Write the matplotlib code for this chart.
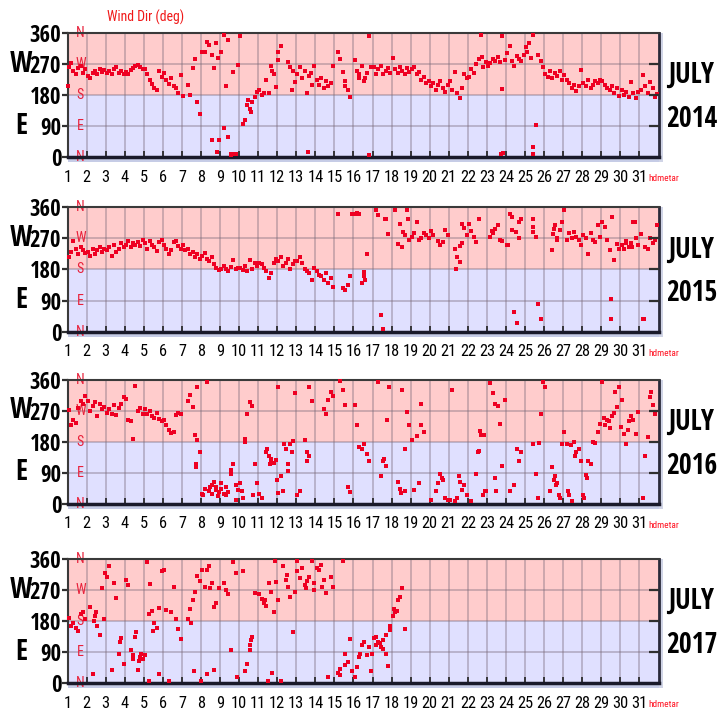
import os
import matplotlib
matplotlib.use('Agg')
import matplotlib.pyplot as plt
from matplotlib import font_manager as fm
from matplotlib.patches import Rectangle
from matplotlib.textpath import TextPath
import matplotlib.transforms as mtransforms

# wind direction (deg) for each July day, read as 3-hourly reports (None = no dot)
years = [2014, 2015, 2016, 2017]
day_ticks = list(range(1, 32))
deg_ticks = [0, 90, 180, 270, 360]
compass = [(360, 'N'), (270, 'W'), (180, 'S'), (90, 'E'), (0, 'N')]

dir_2014 = [
    [262, 272, 250, 240, 258, 265, 245, 255],
    [235, 228, 245, 250, 240, 255, 248, 252],
    [245, 250, 240, 255, 260, 245, 250, 242],
    [248, 240, 252, 258, 265, 268, 262, 255],
    [255, 240, 224, 212, 200, 195, 250, 232],
    [245, 225, 212, 230, 205, 200, 185, 238],
    [178, None, 208, 180, 258, 284, 160, 126],
    [306, 306, 335, 326, 297, 258, 331, 49],
    [306, 355, 206, 340, 10, 248, 10, 268],
    [352, 95, 107, 150, 138, 160, 175, 190],
    [195, 180, 185, 224, 185, 263, 240, 204],
    [282, 321, None, None, 277, 262, 250, 219],
    [240, 262, 230, 250, 185, 235, 210, 263],
    [225, 210, 230, 200, 220, 205, 215, 263],
    [None, 306, 284, 248, 220, 195, 175, None],
    [282, 250, 230, 265, 220, 245, 350, 260],
    [262, 240, 255, 265, 240, 250, 258, 245],
    [287, 255, 245, 262, 250, 240, 258, 248],
    [255, 262, 240, 248, 225, 232, 215, 220],
    [205, 215, 195, 210, 220, 200, 190, 210],
    [220, 195, 248, 185, 170, 200, 240, 228],
    [232, 255, 245, 270, 285, 355, 262, 275],
    [265, 272, 285, 280, 290, 275, 350, 282],
    [302, 321, 280, 263, 292, 285, 278, 295],
    [318, 331, 287, 355, 94, 297, 280, 260],
    [240, 232, 250, 228, 245, 235, 250, 225],
    [238, 225, 215, 200, 210, 192, 205, 253],
    [215, 205, 225, 200, 210, 220, 215, 225],
    [220, 210, 200, 195, 205, 185, 200, 178],
    [195, 180, 188, 175, 219, 185, 172, 190],
    [195, 238, 205, 185, 219, 200, 175, 182],
]
extra_2014 = [(1.03, 205), (8.6, 49), (8.85, 15), (8.9, 287), (9.2, 85), (9.4, 58),
              (9.6, 5), (9.75, 8), (10.45, 165), (10.6, 130), (11.75, 250), (12.06, 306),
              (12.8, 195), (13.6, 15), (13.75, 245), (15.55, 205), (16.8, 5), (16.3, 240),
              (16.6, 228), (22.75, 290), (23.78, 197), (23.72, 8), (23.82, 12), (25.1, 305),
              (25.4, 8), (25.42, 28)]

dir_2015 = [
    [215, 230, 262, 240, 225, 245, 235, 228],
    [230, 220, 240, 225, 235, 245, 230, 238],
    [235, 245, 220, 250, 230, 240, 255, 245],
    [250, 262, 245, 255, 250, 258, 248, 265],
    [255, 240, 262, 250, 245, 232, 258, 266],
    [250, 240, 225, 235, 258, 262, 248, 240],
    [250, 235, 240, 225, 230, 215, 225, 210],
    [220, 228, 210, 205, 215, 195, 185, 178],
    [180, 190, 182, 176, 188, 206, 182, 185],
    [185, 178, 190, 175, 206, 182, 200, 190],
    [200, 195, 185, 175, 155, 170, 200, 210],
    [205, 215, 190, 198, 210, 180, 195, 205],
    [205, 215, 200, 182, 175, 170, 150, 185],
    [175, 165, 160, 150, 170, 140, 155, 130],
    [None, 341, None, 128, 120, 135, 160, 341],
    [341, 342, 340, 140, 160, 226, None, None],
    [None, 350, 336, 48, 10, 326, 283, None],
    [None, 350, 254, 312, 245, 280, 350, 265],
    [275, 285, 317, 265, 270, 285, 280, 270],
    [290, 280, None, 262, 250, 258, 293, 280],
    [None, None, 240, 216, 201, 255, 300, 280],
    [312, 290, 275, 260, 326, None, None, None],
    [None, 275, 285, 298, 307, 264, 262, None],
    [250, 341, 331, 58, 26, 317, 326, None],
    [None, None, None, 326, 274, 82, 38, None],
    [None, None, None, 235, 307, 270, 293, 317],
    [350, 264, 285, 270, 288, 275, 265, 250],
    [280, 270, 226, 285, 265, 260, 307, 275],
    [317, 302, 264, 235, 331, 206, 254, 240],
    [250, 240, 262, 245, 255, 317, 270, 250],
    [283, 38, 245, 240, 270, 255, 265, 307],
]
extra_2015 = [(16.55, 172), (16.6, 150), (17.65, 326), (18.62, 288), (18.85, 326),
              (21.4, 182), (21.6, 248), (21.7, 312), (23.25, 290), (24.1, 250), (24.3, 293),
              (24.55, 288), (24.7, 270), (25.4, 288), (25.42, 302), (26.45, 283), (26.5, 298),
              (26.65, 264), (29.52, 96), (29.53, 38), (30.3, 255), (30.6, 245), (30.75, 317),
              (31.25, 38)]

dir_2016 = [
    [272, 228, 243, 235, 280, 300, 290, 315],
    [300, 270, 285, 295, 255, 290, 275, 282],
    [265, 275, 262, 287, 258, 280, 290, 311],
    [305, 245, 240, 189, 342, 270, 280, 262],
    [275, 262, 270, 255, 250, 265, 248, 242],
    [245, 230, 215, 205, 210, 258, 265, 262],
    [None, None, 300, 316, 282, 200, 185, 150],
    [30, 45, 355, 38, 55, 65, 42, 35],
    [45, 30, 50, 35, 86, 117, 55, 40],
    [62, 18, 179, 262, 296, 285, 117, 62],
    [30, 18, None, 150, 140, 125, 120, 128],
    [340, 81, 37, 160, 115, 175, 184, 321],
    [27, 37, None, 186, 150, 340, 299, None],
    [None, None, None, 275, 262, 301, 326, 315],
    [None, None, 357, 331, 287, 50, 35, None],
    [287, 228, 165, 160, 174, 145, 125, None],
    [None, None, 355, 81, 125, 110, None, None],
    [None, None, 65, 45, 331, 159, 267, 228],
    [186, 42, 198, 62, 291, 208, None, None],
    [12, None, 37, 62, 86, 70, 18, 12],
    [12, 331, 8, 18, 65, 42, 55, 27],
    [None, 8, None, 86, 155, 200, 27, 37],
    [None, 350, 321, 291, 285, 233, 110, 301],
    [None, 37, None, 55, 160, 125, 150, None],
    [None, None, None, 174, 86, 18, 262, 355],
    [None, None, 37, 106, 80, 60, 18, 174],
    [208, 175, 25, 8, 180, 150, 160, 125],
    [25, 85, 125, 115, 179, 178, 208, 233],
    [355, 230, 245, 222, 255, 265, 282, 340],
    [301, 203, 174, 240, 255, 245, 203, 267],
    [None, 18, 140, 195, 311, 287, 262, None],
]
extra_2016 = [(1.3, 245), (7.72, 115), (7.75, 106), (7.8, 340), (8.1, 25), (8.45, 48),
              (8.6, 30), (8.8, 50), (8.9, 22), (9.05, 60), (9.3, 25), (9.55, 100), (9.85, 13),
              (10.15, 37), (10.3, 189), (10.75, 27), (11.45, 160), (11.6, 115), (11.7, 130),
              (11.85, 118), (12.0, 71), (12.05, 32), (12.35, 174), (12.55, 96), (12.75, 150),
              (13.55, 125), (13.65, 140), (17.6, 130), (17.75, 243), (17.85, 340), (18.5, 32),
              (18.7, 37), (19.55, 228), (20.65, 75), (21.55, 80), (22.55, 150), (22.65, 213),
              (22.85, 200), (22.9, 37), (23.45, 76), (23.47, 37), (25.75, 176), (26.05, 340),
              (26.5, 70), (26.6, 55), (26.8, 27), (27.25, 37), (27.4, 170), (27.6, 140),
              (28.1, 18), (28.25, 76), (29.15, 250), (29.4, 240), (29.7, 325), (30.05, 225),
              (30.4, 215), (30.55, 255), (31.62, 326)]

dir_2017 = [
    [190, 165, 175, 160, 150, 200, 207, 185],
    [None, 221, 27, 195, 165, 139, 275, 185],
    [309, 340, 38, 290, 248, 85, 130, 56],
    [300, 285, 95, 80, 135, 38, 75, 70],
    [80, 350, 287, 210, 175, 160, 217, 326],
    [328, 212, 7, 205, 280, 187, 158, 129],
    [None, None, 185, 215, 240, 265, 310, 295],
    [328, 280, 328, 340, 290, 221, 231, 275],
    [None, 290, 270, 258, 95, 350, 320, None],
    [None, 324, 36, 56, 110, 134, 260, None],
    [258, 245, 232, 225, 290, 265, 207, 294],
    [241, 7, 340, 300, 280, 250, 148, 265],
    [324, 305, 333, 285, 295, 309, 353, 290],
    [333, 328, 343, 299, 260, 17, 309, 280],
    [None, 30, 41, 353, 85, 60, 129, 36],
    [17, 46, 75, 110, 119, 80, 105, 36],
    [130, 110, 120, 105, 125, 140, 48, 153],
    [195, 205, 241, 250, 275, 158, None, None],
]
extra_2017 = [(2.4, 180), (2.5, 205), (2.95, 319), (3.45, 290), (3.75, 120), (4.45, 70),
              (4.6, 148), (4.75, 65), (4.85, 85), (5.25, 7), (5.3, 200), (5.5, 150), (5.8, 27),
              (7.5, 175), (7.65, 36), (8.0, 7), (8.3, 27), (8.45, 275), (8.7, 38), (9.9, 17),
              (10.55, 95), (10.6, 125), (11.35, 240), (11.5, 7), (11.75, 30), (11.9, 353),
              (12.5, 314), (13.05, 353), (13.5, 275), (13.95, 270), (14.35, 280), (15.3, 22),
              (15.55, 51), (16.35, 85), (16.95, 85), (17.2, 135), (17.4, 115), (17.55, 100),
              (17.7, 85), (17.9, 165), (18.1, 215), (18.3, 210)]

series = [(dir_2014, extra_2014), (dir_2015, extra_2015),
          (dir_2016, extra_2016), (dir_2017, extra_2017)]

font_files = {os.path.basename(f.fname): f.fname for f in fm.fontManager.ttflist}


def font_file(names, fallback):
    for n in names:
        if n in font_files:
            return fm.FontProperties(fname=font_files[n])
    return fallback


fp_bold = font_file(['OpenSans-CondBold.ttf', 'RobotoCondensed-Bold.ttf',
                     'NotoSans-ExtraCondensedBold.ttf', 'NotoSans-CondensedBold.ttf',
                     'LiberationSansNarrow-Bold.ttf', 'DejaVuSansCondensed-Bold.ttf'],
                    fm.FontProperties(family='DejaVu Sans', weight='bold'))
fp_reg = font_file(['RobotoCondensed-Regular.ttf', 'NotoSans-Condensed.ttf',
                    'LiberationSansNarrow-Regular.ttf', 'DejaVuSansCondensed.ttf'],
                   fm.FontProperties(family='DejaVu Sans'))


def fit(s, fp, width_px, cap_px):
    """font size (pt) so the text is at most width_px wide and cap_px tall"""
    w = TextPath((0, 0), s, size=100, prop=fp).get_extents().width
    px = min(cap_px / 0.72, 100 * width_px / w)
    return px * 0.72


W, H = 727, 712
fig = plt.figure(figsize=(W / 100, H / 100), dpi=100)
panels_px = [(33, 157), (207, 332), (380, 504), (559, 683)]
left_px, right_px = 67.5, 658.5
span_px = right_px - left_px
red = '#ee0022'

sz_ylab = fit('360', fp_bold, 30, 17)
sz_we = fit('W', fp_bold, 22, 23)
sz_big = min(fit('JULY', fp_bold, 55, 25), fit('2014', fp_bold, 50, 25))
sz_xlab = fit('10', fp_reg, 14, 12)
sz_comp = fit('W', fp_reg, 11, 10)
sz_title = fit('Wind Dir (deg)', fp_reg, 76, 12)
sz_tag = fit('hdmetar', fp_reg, 30, 8)

for n, (yr, (top, bot), (daily, extra)) in enumerate(zip(years, panels_px, series)):
    ax = fig.add_axes([left_px / W, 1 - bot / H, span_px / W, (bot - top) / H])
    ax.set_xlim(1, 32)
    ax.set_ylim(0, 360)
    ax.axhspan(180, 360, color='#ffcccc', zorder=0, lw=0)
    ax.axhspan(0, 180, color='#e0e0ff', zorder=0, lw=0)
    for d in day_ticks[1:]:
        ax.axvline(d, color='#7a6a7a', alpha=0.45, lw=1.2, zorder=1)
    for v in deg_ticks[1:-1]:
        ax.axhline(v, color='#7a6a7a', alpha=0.45, lw=1.2, zorder=1)

    t, v = [], []
    for i, readings in enumerate(daily):
        for j, r in enumerate(readings):
            if r is not None:
                t.append(i + 1 + (j + 0.5) / 8)
                v.append(r)
    for d, r in extra:
        t.append(d)
        v.append(r)
    ax.plot(t, v, 's', color=red, ms=3.5, mew=0, zorder=3, clip_on=False)

    ax.set_xticks(day_ticks)
    ax.set_xticklabels([str(d) for d in day_ticks], fontproperties=fp_reg, fontsize=sz_xlab)
    ax.tick_params(axis='x', direction='in', length=4, width=1.2, color='#202020', pad=9)
    ax.set_yticks(deg_ticks)
    ax.set_yticklabels([str(d) for d in deg_ticks], fontproperties=fp_bold, fontsize=sz_ylab)
    ax.tick_params(axis='y', direction='out', length=4, width=1.6, color='#303030', pad=0.5)

    ax2 = ax.twinx()
    ax2.set_ylim(0, 360)
    ax2.set_yticks(deg_ticks[1:-1])
    ax2.tick_params(axis='y', direction='in', length=7, width=1.6, color='#303030',
                    labelright=False)
    for s in ax2.spines.values():
        s.set_visible(False)

    for s in ['left', 'top']:
        ax.spines[s].set_color('#3a3a3a')
        ax.spines[s].set_linewidth(1.5)
    ax.spines['bottom'].set_color('#1a1a2a')
    ax.spines['bottom'].set_linewidth(2.5)
    ax.spines['right'].set_color('#2a2a3a')
    ax.spines['right'].set_linewidth(2)
    ax.add_patch(Rectangle((0, -0.04), 1.008, 0.04, transform=ax.transAxes,
                           color='#c6cce6', clip_on=False, zorder=0, lw=0))
    ax.add_patch(Rectangle((1.0, -0.04), 0.007, 1.04, transform=ax.transAxes,
                           color='#d0d4e6', clip_on=False, zorder=0, lw=0))

    blend = mtransforms.blended_transform_factory(ax.transAxes, ax.transData)
    x_we = (21 - left_px) / span_px
    ax.text(x_we, 270, 'W', transform=blend, ha='center', va='center',
            fontproperties=fp_bold, fontsize=sz_we)
    ax.text(x_we, 90, 'E', transform=blend, ha='center', va='center',
            fontproperties=fp_bold, fontsize=sz_we)
    for val, letter in compass:
        ax.text(1.68, val, letter, color='#e8203a', ha='center', va='center',
                fontproperties=fp_reg, fontsize=sz_comp, zorder=2, clip_on=False)

    x_big = (691.5 - left_px) / span_px
    ax.text(x_big, 0.657, 'JULY', transform=ax.transAxes, ha='center', va='center',
            fontproperties=fp_bold, fontsize=sz_big)
    ax.text(x_big, 0.306, str(yr), transform=ax.transAxes, ha='center', va='center',
            fontproperties=fp_bold, fontsize=sz_big)
    ax.text((648 - left_px) / span_px, -0.17, 'hdmetar', transform=ax.transAxes,
            ha='left', va='center', color='#ff1020', fontproperties=fp_reg, fontsize=sz_tag)
    if n == 0:
        ax.text((146 - left_px) / span_px, 1 + 16 / 124, 'Wind Dir (deg)',
                transform=ax.transAxes, ha='center', va='center', color='#f01818',
                fontproperties=fp_reg, fontsize=sz_title)

fig.savefig('out.png', dpi=100)
